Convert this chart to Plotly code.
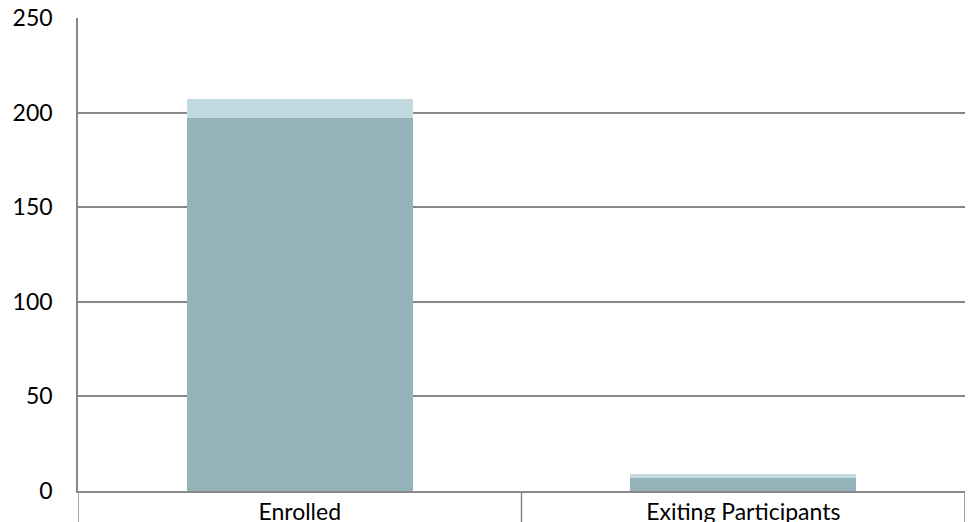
import plotly.graph_objects as go

categories = ["Enrolled", "Exiting Participants"]
base_values = [197, 7]
top_values = [10, 2]

y_ticks = [0, 50, 100, 150, 200, 250]

dark_color = "#94b3bb"
light_color = "#c2d9e0"
line_color = "#888888"
font_family = "Lato, 'Open Sans', sans-serif"

fig = go.Figure()
fig.add_trace(go.Bar(x=categories, y=base_values, marker=dict(color=dark_color, line=dict(width=0)),
                     width=0.51, hoverinfo="x+y"))
fig.add_trace(go.Bar(x=categories, y=top_values, marker=dict(color=light_color, line=dict(width=0)),
                     width=0.51, hoverinfo="x+y"))

# category divider lines extending below the axis
for b in [-0.5, 0.5, 1.5]:
    fig.add_shape(type="line", xref="x", yref="paper", x0=b, x1=b, y0=0, y1=-0.2,
                  line=dict(color=line_color, width=1.5), layer="above")

fig.update_layout(
    barmode="stack",
    showlegend=False,
    width=968, height=522,
    margin=dict(l=78, r=3, t=18, b=31),
    plot_bgcolor="white",
    paper_bgcolor="white",
    font=dict(family=font_family, size=23, color="#000000"),
    bargap=0.49,
)
fig.update_xaxes(
    type="category",
    range=[-0.5, 1.5],
    showline=True, linecolor=line_color, linewidth=1.5,
    ticks="", showgrid=False,
    tickfont=dict(size=23),
    automargin=False, ticklabelstandoff=0,
)
fig.update_yaxes(
    range=[0, 250],
    tickvals=y_ticks,
    showline=True, linecolor=line_color, linewidth=1.5,
    showgrid=True, gridcolor=line_color, gridwidth=1.5,
    ticks="", ticklabelstandoff=19,
    tickfont=dict(size=23),
    zeroline=False, automargin=False,
)

fig.write_html("out.html")
